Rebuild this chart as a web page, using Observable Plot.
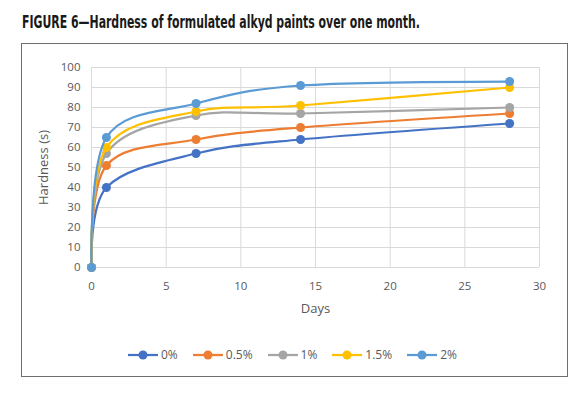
<!DOCTYPE html>
<html><head><meta charset="utf-8">
<script src="https://cdn.jsdelivr.net/npm/d3@7"></script>
<script src="https://cdn.jsdelivr.net/npm/@observablehq/plot@0.6"></script>
<style>
body{margin:0;background:#fff;}
#page{position:relative;width:584px;height:396px;overflow:hidden;font-family:"Open Sans",sans-serif;background:#fff;}
#title{position:absolute;left:22px;top:14px;font-family:"Liberation Sans Narrow","DejaVu Sans Condensed","DejaVu Sans",sans-serif;font-weight:bold;font-size:17px;line-height:17px;white-space:nowrap;transform-origin:0 0;color:#1a1a1a;}
#box{position:absolute;left:21px;top:43px;width:547px;height:334px;border:1.5px solid #6e6e6e;box-sizing:border-box;}
#chart{position:absolute;left:0;top:0;}
#legend{position:absolute;left:128px;top:348px;display:flex;align-items:center;font-size:12px;color:#595959;line-height:14px;}
#legend .item{display:flex;align-items:center;margin-right:15px;}
#legend svg{margin-right:3px;}
</style>
</head><body>
<div id="page">
  <div id="title"></div>
  <div id="box"></div>
  <div id="chart"></div>
  <div id="legend"></div>
</div>
<script>
const titleText = "FIGURE 6\u2014Hardness of formulated alkyd paints over one month.";
const days = [0, 1, 7, 14, 28];
const seriesNames = ["0%", "0.5%", "1%", "1.5%", "2%"];
const hardness0 = [0, 40, 57, 64, 72];
const hardness05 = [0, 51, 64, 70, 77];
const hardness1 = [0, 57, 76, 77, 80];
const hardness15 = [0, 60, 78, 81, 90];
const hardness2 = [0, 65, 82, 91, 93];
const colors = ["#4472C4", "#ED7D31", "#A5A5A5", "#FFC000", "#5B9BD5"];
const xTicks = [0, 5, 10, 15, 20, 25, 30];
const yTicks = [0, 10, 20, 30, 40, 50, 60, 70, 80, 90, 100];
const xLabel = "Days";
const yLabel = "Hardness (s)";

const values = [hardness0, hardness05, hardness1, hardness15, hardness2];
const rows = seriesNames.flatMap((s, i) => days.map((d, j) => ({series: s, day: d, hardness: values[i][j]})));

// title
const t = document.getElementById("title");
t.textContent = titleText;
const w = t.getBoundingClientRect().width;
t.style.transform = `scaleX(${398 / w})`;

const marks = [
  Plot.gridY(yTicks, {stroke: "#d9d9d9", strokeOpacity: 1, strokeWidth: 1}),
  Plot.gridX(xTicks, {stroke: "#d9d9d9", strokeOpacity: 1, strokeWidth: 1}),
  Plot.axisY(yTicks, {tickSize: 0, tickPadding: 11, label: null, fill: "#595959"}),
  Plot.axisX(xTicks, {tickSize: 0, tickPadding: 14, label: null, fill: "#595959"}),
  Plot.text([yLabel], {frameAnchor: "left", rotate: -90, dx: -48, textAnchor: "middle", lineAnchor: "middle", fill: "#595959", fontSize: 13}),
  Plot.text([xLabel], {frameAnchor: "bottom", dy: 41, textAnchor: "middle", lineAnchor: "middle", fill: "#595959", fontSize: 13})
];
seriesNames.forEach((s, i) => {
  const data = rows.filter(r => r.series === s);
  marks.push(Plot.line(data, {x: "day", y: "hardness", stroke: colors[i], strokeWidth: 2.25, curve: "cardinal"}));
  marks.push(Plot.dot(data, {x: "day", y: "hardness", fill: colors[i], r: 4.5}));
});

const chart = Plot.plot({
  width: 584,
  height: 320,
  marginLeft: 91,
  marginRight: 45,
  marginTop: 67,
  marginBottom: 53,
  x: {domain: [0, 30]},
  y: {domain: [0, 100]},
  style: {background: "transparent", color: "#595959", fontFamily: "'Open Sans', sans-serif", fontSize: "11.5px"},
  marks
});
document.getElementById("chart").appendChild(chart);

// legend
const legend = document.getElementById("legend");
seriesNames.forEach((s, i) => {
  const item = document.createElement("div");
  item.className = "item";
  item.innerHTML = `<svg width="30" height="10"><line x1="0" y1="5" x2="30" y2="5" stroke="${colors[i]}" stroke-width="2.25"/><circle cx="15" cy="5" r="4.5" fill="${colors[i]}"/></svg><span>${s}</span>`;
  legend.appendChild(item);
});
</script>
</body></html>
